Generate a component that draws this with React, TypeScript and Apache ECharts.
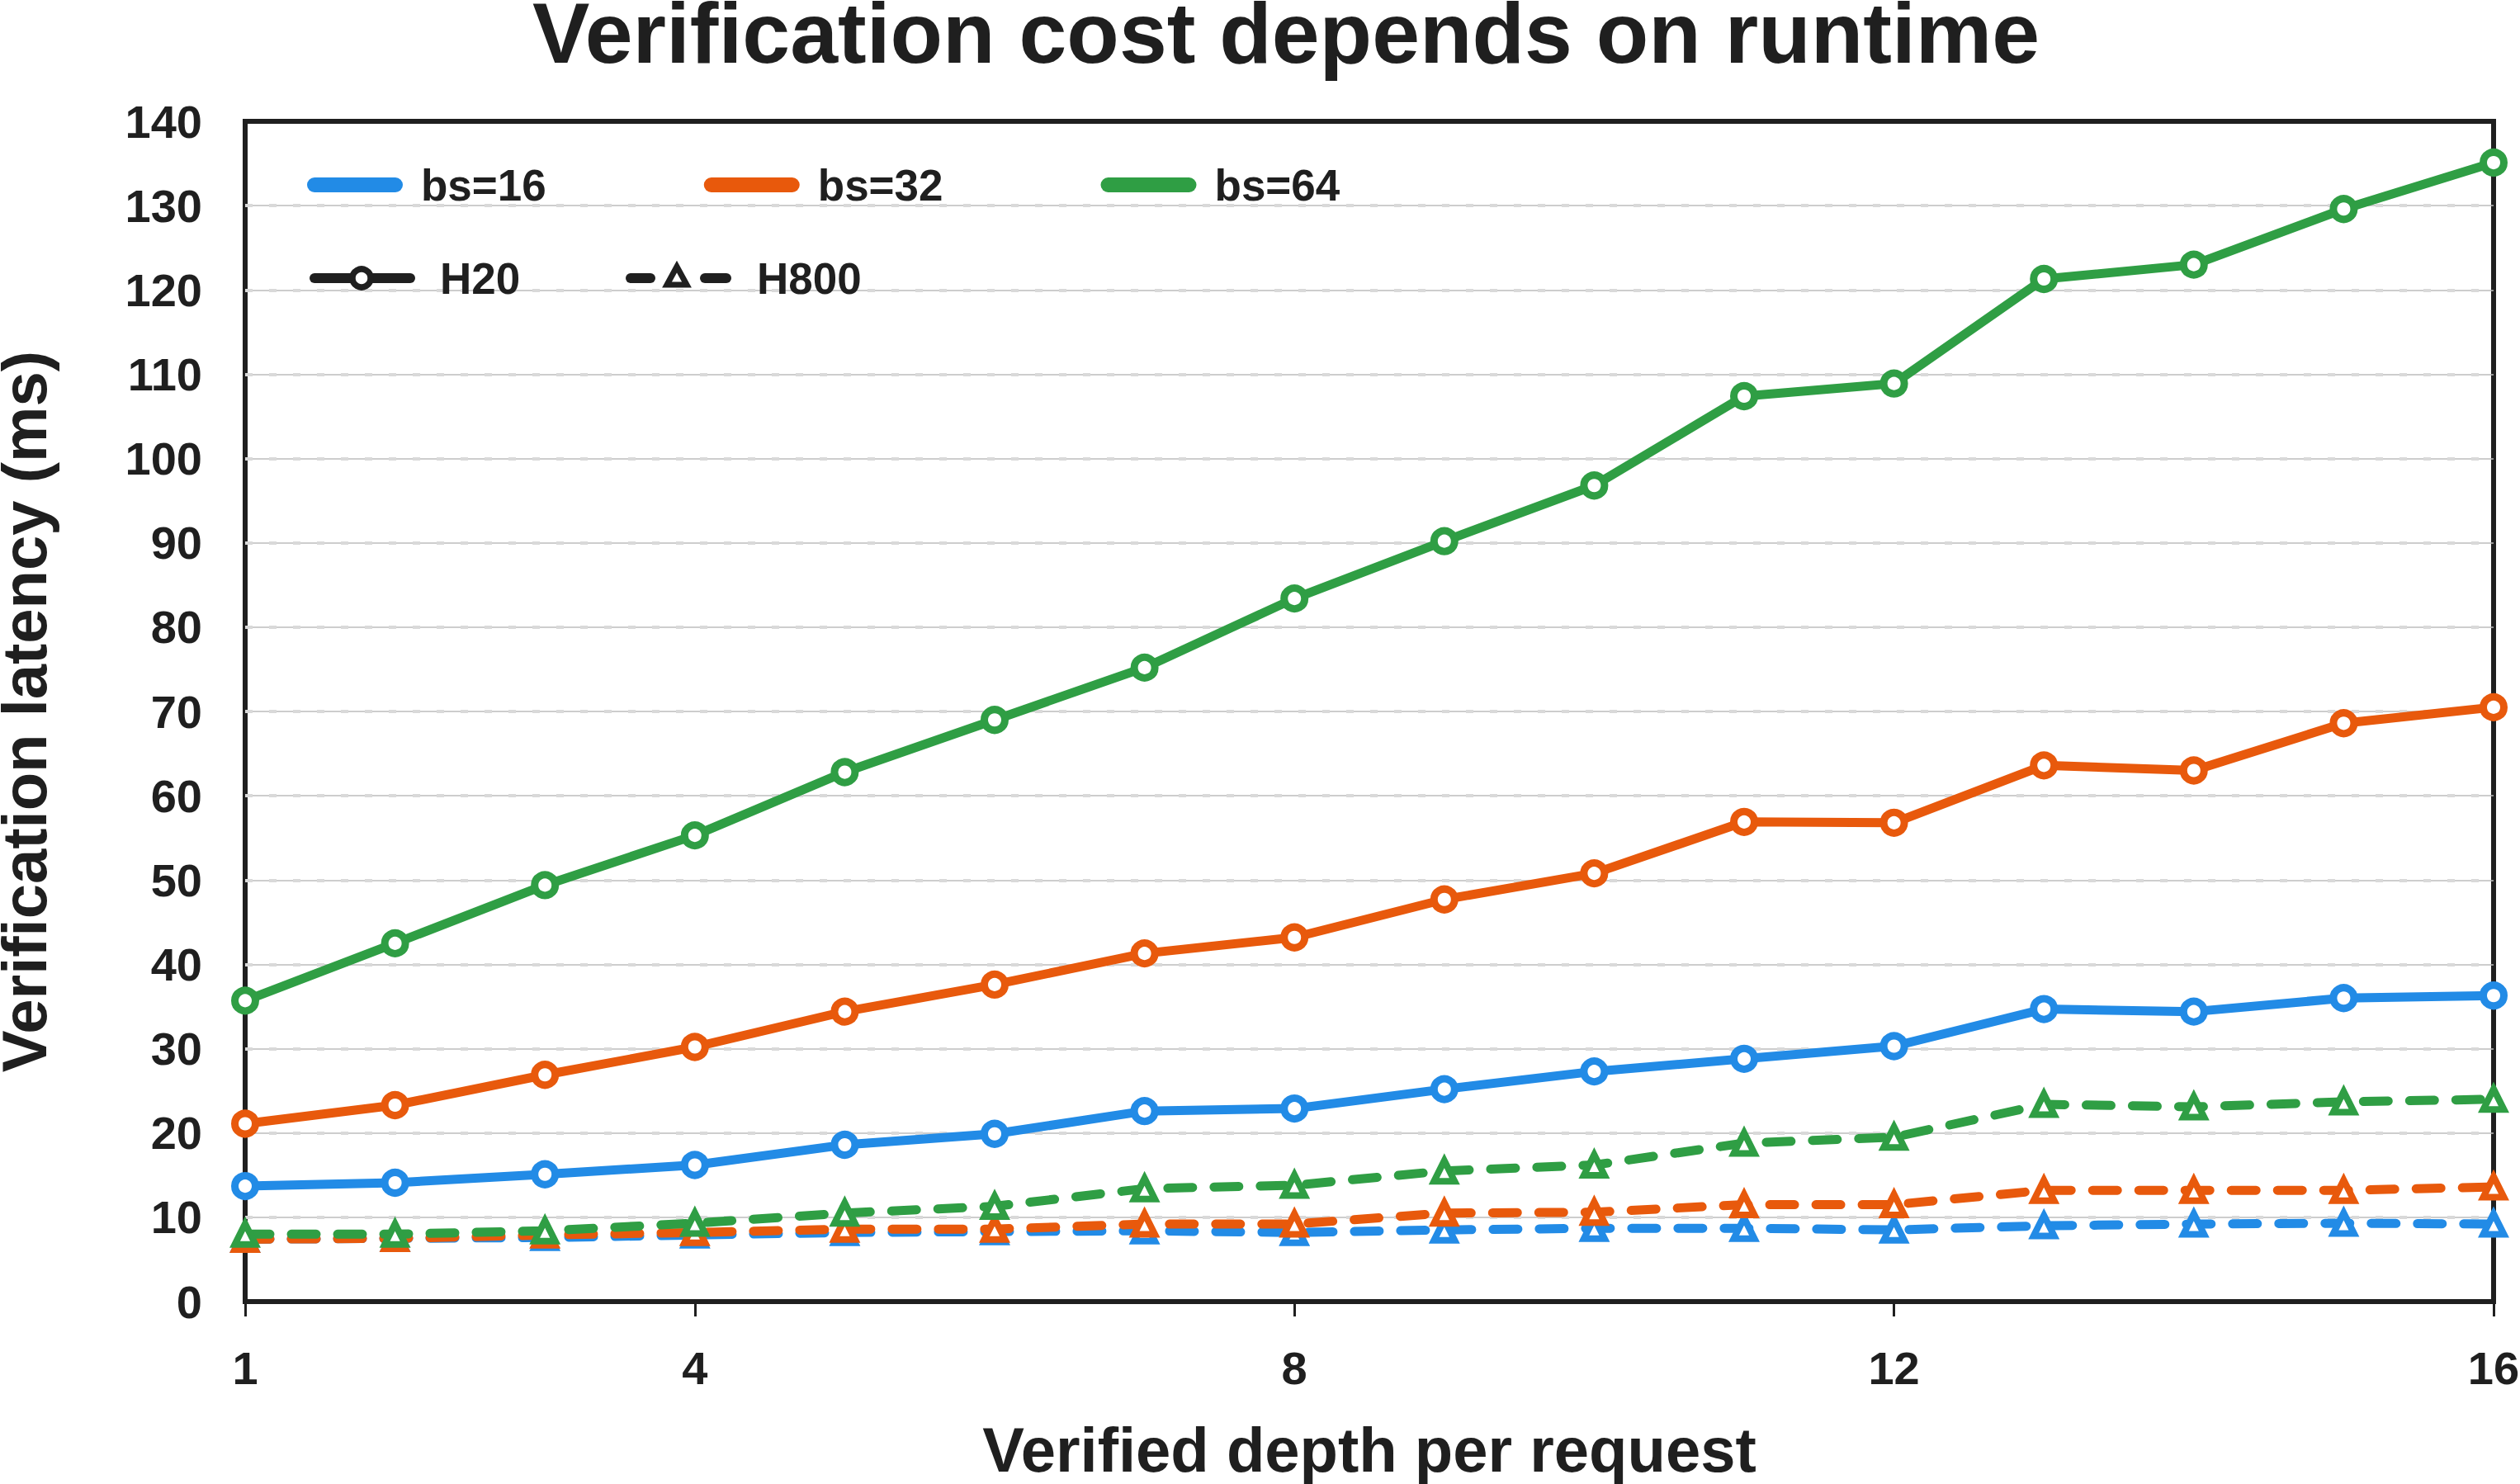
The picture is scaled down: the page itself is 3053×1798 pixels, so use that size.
import React, { useEffect, useRef } from "react";
import * as echarts from "echarts";

const depth = [1, 2, 3, 4, 5, 6, 7, 8, 9, 10, 11, 12, 13, 14, 15, 16];
const xTicks = [1, 4, 8, 12, 16];

const h20Bs16 = [13.7, 14.1, 15.1, 16.2, 18.6, 19.9, 22.6, 22.9, 25.2, 27.3, 28.8, 30.3, 34.7, 34.4, 36.0, 36.3];
const h20Bs32 = [21.1, 23.3, 26.9, 30.2, 34.4, 37.6, 41.3, 43.2, 47.7, 50.8, 56.9, 56.8, 63.6, 63.0, 68.6, 70.5];
const h20Bs64 = [35.7, 42.5, 49.4, 55.3, 62.8, 69.0, 75.2, 83.4, 90.2, 96.8, 107.4, 108.9, 121.3, 123.0, 129.6, 135.1];

const h800Bs16 = [7.4, 7.5, 7.6, 7.9, 8.2, 8.3, 8.4, 8.2, 8.5, 8.7, 8.7, 8.5, 9.0, 9.2, 9.3, 9.2];
const h800Bs32 = [7.4, 7.5, 7.9, 8.2, 8.6, 8.6, 9.2, 9.2, 10.5, 10.6, 11.5, 11.5, 13.2, 13.2, 13.2, 13.6];
const h800Bs64 = [8.0, 8.0, 8.4, 9.3, 10.5, 11.3, 13.4, 13.8, 15.5, 16.2, 18.8, 19.5, 23.4, 23.1, 23.7, 24.0];

const batchNames = ["bs=16", "bs=32", "bs=64"];
const gpuNames = ["H20", "H800"];
const colors = ["#228be6", "#e8590c", "#2f9e44"];

const FONT = '"Liberation Sans", Arial, Helvetica, sans-serif';
const INK = "#1f1f1f";

const pair = (arr: number[]) => depth.map((d, i) => [d, arr[i]]);

export default function App() {
  const ref = useRef<HTMLDivElement>(null);
  useEffect(() => {
    document.body.style.margin = "0";
    document.body.style.overflow = "hidden";
    const chart = echarts.init(ref.current!, null, { renderer: "svg" });

    const h20 = [h20Bs16, h20Bs32, h20Bs64];
    const h800 = [h800Bs16, h800Bs32, h800Bs64];

    const series: any[] = [];
    // legend-only entries
    batchNames.forEach((n, i) => {
      series.push({ type: "line", name: n, data: [], color: colors[i], itemStyle: { color: colors[i] } });
    });
    h800.forEach((arr, i) => {
      series.push({
        type: "line",
        name: gpuNames[1] + " " + batchNames[i],
        data: pair(arr),
        color: colors[i],
        symbol: "triangle",
        symbolSize: 25,
        showAllSymbol: true,
        itemStyle: { color: "#ffffff", borderColor: colors[i], borderWidth: 8 },
        lineStyle: { color: colors[i], width: 11, type: [30, 26], cap: "round" },
        z: 3,
      });
    });
    h20.forEach((arr, i) => {
      series.push({
        type: "line",
        name: gpuNames[0] + " " + batchNames[i],
        data: pair(arr),
        color: colors[i],
        symbol: "circle",
        symbolSize: 25,
        showAllSymbol: true,
        itemStyle: { color: "#ffffff", borderColor: colors[i], borderWidth: 9 },
        lineStyle: { color: colors[i], width: 11, join: "round", cap: "round" },
        z: 4,
      });
    });

    const option: any = {
      animation: false,
      backgroundColor: "#ffffff",
      title: {
        text: "Verification cost depends on runtime",
        left: 645,
        top: 0,
        padding: 0,
        textStyle: { fontSize: 104, fontWeight: "bold", color: INK, fontFamily: FONT, lineHeight: 80 },
      },
      legend: {
        data: batchNames,
        left: 372,
        top: 197,
        padding: 0,
        itemGap: 191,
        itemWidth: 116,
        itemHeight: 18,
        icon: "path://M9 0H107A9 9 0 0 1 107 18H9A9 9 0 0 1 9 0Z",
        selectedMode: false,
        textStyle: {
          fontSize: 53,
          fontWeight: "bold",
          color: INK,
          fontFamily: FONT,
          lineHeight: 54,
          padding: [0, 0, 0, 17],
        },
      },
      grid: {
        left: 297,
        right: 32,
        top: 147,
        bottom: 221,
        outerBoundsMode: "none",
        containLabel: false,
        show: true,
        borderColor: INK,
        borderWidth: 6,
        backgroundColor: "transparent",
      },
      xAxis: {
        type: "value",
        min: 1,
        max: 16,
        axisLine: { show: false },
        axisTick: {
          show: true,
          customValues: xTicks,
          length: 18,
          inside: false,
          lineStyle: { color: INK, width: 3 },
        },
        axisLabel: {
          customValues: xTicks,
          margin: 52,
          fontSize: 56,
          fontWeight: "bold",
          color: INK,
          fontFamily: FONT,
        },
        splitLine: { show: false },
        name: "Verified depth per request",
        nameLocation: "middle",
        nameGap: 141,
        nameTextStyle: { fontSize: 76, fontWeight: "bold", color: INK, fontFamily: FONT },
      },
      yAxis: [
        {
          type: "value",
          min: 0,
          max: 140,
          interval: 10,
          axisLine: { show: false },
          axisTick: { show: false },
          axisLabel: { margin: 52, fontSize: 56, fontWeight: "bold", color: INK, fontFamily: FONT },
          splitLine: {
            show: true,
            showMinLine: false,
            showMaxLine: false,
            lineStyle: { color: "#bdbdbd", width: 1.5 },
          },
          name: "Verification latency (ms)",
          nameLocation: "middle",
          nameGap: 240,
          nameTextStyle: { fontSize: 76, fontWeight: "bold", color: INK, fontFamily: FONT, lineHeight: 56 },
        },
        {
          type: "value",
          min: 0,
          max: 140,
          interval: 10,
          position: "right",
          axisLine: { show: false },
          axisTick: { show: false },
          axisLabel: { show: false },
          splitLine: {
            show: true,
            showMinLine: false,
            showMaxLine: false,
            lineStyle: { color: "#d9d9d9", width: 4, type: [9, 20] },
          },
        },
      ],
      graphic: [
        {
          type: "line",
          shape: { x1: 381, y1: 337, x2: 497, y2: 337 },
          style: { stroke: INK, lineWidth: 12, lineCap: "round" },
          z: 10,
        },
        {
          type: "circle",
          shape: { cx: 438, cy: 337, r: 11 },
          style: { fill: "#ffffff", stroke: INK, lineWidth: 7.5 },
          z: 11,
        },
        {
          type: "text",
          x: 533,
          y: 337,
          style: {
            text: gpuNames[0],
            fill: INK,
            font: `bold 53px ${FONT}`,
            align: "left",
            verticalAlign: "middle",
          },
          z: 10,
        },
        {
          type: "line",
          shape: { x1: 764, y1: 337, x2: 788, y2: 337 },
          style: { stroke: INK, lineWidth: 12, lineCap: "round" },
          z: 10,
        },
        {
          type: "line",
          shape: { x1: 854, y1: 337, x2: 880, y2: 337 },
          style: { stroke: INK, lineWidth: 12, lineCap: "round" },
          z: 10,
        },
        {
          type: "polygon",
          shape: { points: [[820, 323], [808, 345], [832, 345]] },
          style: { fill: "#ffffff", stroke: INK, lineWidth: 7 },
          z: 11,
        },
        {
          type: "text",
          x: 917,
          y: 337,
          style: {
            text: gpuNames[1],
            fill: INK,
            font: `bold 53px ${FONT}`,
            align: "left",
            verticalAlign: "middle",
          },
          z: 10,
        },
      ],
      series,
    };

    chart.setOption(option);
    return () => chart.dispose();
  }, []);
  return <div ref={ref} style={{ width: 3053, height: 1798 }} />;
}
